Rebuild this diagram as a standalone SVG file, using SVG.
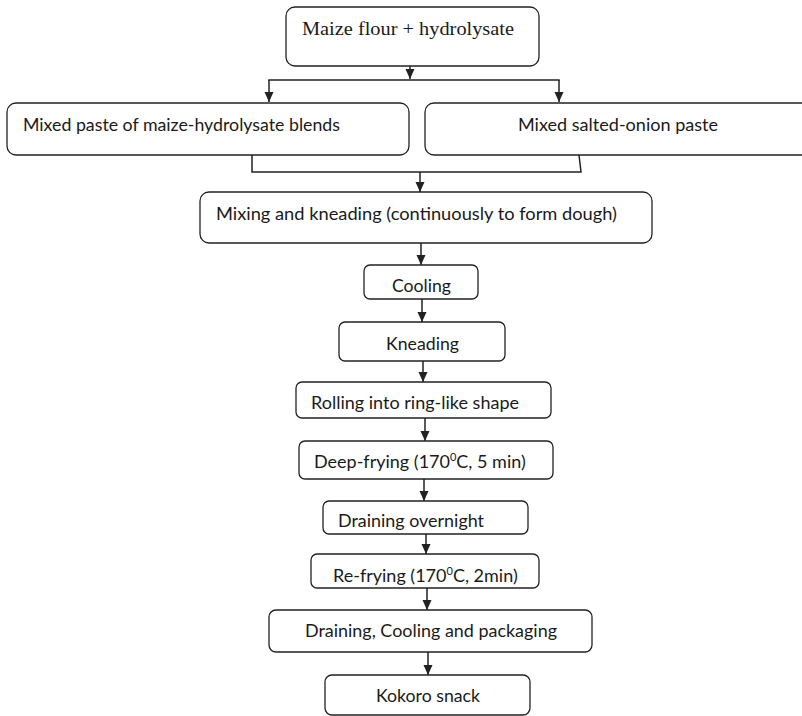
<svg xmlns="http://www.w3.org/2000/svg" width="802" height="716" viewBox="0 0 802 716">
<style>
.box{fill:#fff;stroke:#222;stroke-width:1.3}
.t{font-family:Lato,"Open Sans","Liberation Sans",sans-serif;font-size:18px;fill:#1a1a1a}
.s{font-family:"Liberation Serif","DejaVu Serif",serif;font-size:18px;fill:#1a1a1a}
.c{fill:none;stroke:#222;stroke-width:1.5}
.sup{font-size:11px}
</style>
<defs>
<marker id="ah" markerUnits="userSpaceOnUse" markerWidth="10" markerHeight="10" refX="10" refY="4.5" orient="auto">
<path d="M0,0 L10,4.5 L0,9 z" fill="#222"/>
</marker>
</defs>
<rect width="802" height="716" fill="#fff"/>
<g id="connectors">
<line class="c" x1="410" y1="66" x2="410" y2="79" marker-end="url(#ah)"/>
<line class="c" x1="268.3" y1="80" x2="559.7" y2="80"/>
<line class="c" x1="269" y1="80" x2="269" y2="102" marker-end="url(#ah)"/>
<line class="c" x1="559" y1="80" x2="559" y2="102" marker-end="url(#ah)"/>
<path class="c" d="M252,155 L252,172 L581,172 L579,155"/>
<line class="c" x1="420" y1="172" x2="420" y2="192" marker-end="url(#ah)"/>
<line class="c" x1="421" y1="243" x2="421" y2="265" marker-end="url(#ah)"/>
<line class="c" x1="422" y1="299" x2="422" y2="322" marker-end="url(#ah)"/>
<line class="c" x1="423" y1="361" x2="423" y2="382" marker-end="url(#ah)"/>
<line class="c" x1="425" y1="418" x2="425" y2="441" marker-end="url(#ah)"/>
<line class="c" x1="424" y1="479" x2="424" y2="501" marker-end="url(#ah)"/>
<line class="c" x1="426" y1="534" x2="426" y2="554" marker-end="url(#ah)"/>
<line class="c" x1="427" y1="588" x2="427" y2="610" marker-end="url(#ah)"/>
<line class="c" x1="428" y1="652" x2="428" y2="675" marker-end="url(#ah)"/>
</g>
<g id="n1"><rect class="box" x="286" y="7" width="253" height="59" rx="9"/><text class="s" x="302" y="35" textLength="212" lengthAdjust="spacingAndGlyphs">Maize flour + hydrolysate</text></g>
<g id="n2"><rect class="box" x="7" y="103" width="402" height="52" rx="9"/><text class="t" x="23" y="131" textLength="317" lengthAdjust="spacingAndGlyphs">Mixed paste of maize-hydrolysate blends</text></g>
<g id="n3"><rect class="box" x="425" y="103" width="395" height="52" rx="9"/><text class="t" x="518" y="131" textLength="200" lengthAdjust="spacingAndGlyphs">Mixed salted-onion paste</text></g>
<g id="n4"><rect class="box" x="200" y="192" width="452" height="51" rx="9"/><text class="t" x="216" y="220" textLength="401" lengthAdjust="spacingAndGlyphs">Mixing and kneading (continuously to form dough)</text></g>
<g id="n5"><rect class="box" x="364" y="265" width="114" height="34" rx="6"/><text class="t" x="392" y="292" textLength="59" lengthAdjust="spacingAndGlyphs">Cooling</text></g>
<g id="n6"><rect class="box" x="339" y="322" width="166" height="39" rx="6"/><text class="t" x="386" y="350" textLength="73" lengthAdjust="spacingAndGlyphs">Kneading</text></g>
<g id="n7"><rect class="box" x="296" y="382" width="255" height="36" rx="6"/><text class="t" x="311" y="409" textLength="208" lengthAdjust="spacingAndGlyphs">Rolling into ring-like shape</text></g>
<g id="n8"><rect class="box" x="299" y="441" width="254" height="38" rx="6"/><text class="t" x="314" y="468">Deep-frying (170<tspan class="sup" dy="-7">0</tspan><tspan dy="7">C, 5 min)</tspan></text></g>
<g id="n9"><rect class="box" x="323" y="501" width="205" height="33" rx="6"/><text class="t" x="338" y="527" textLength="146" lengthAdjust="spacingAndGlyphs">Draining overnight</text></g>
<g id="n10"><rect class="box" x="311" y="554" width="228" height="34" rx="6"/><text class="t" x="333" y="582">Re-frying (170<tspan class="sup" dy="-7">0</tspan><tspan dy="7">C, 2min)</tspan></text></g>
<g id="n11"><rect class="box" x="269" y="610" width="323" height="42" rx="7"/><text class="t" x="305" y="637" textLength="252" lengthAdjust="spacingAndGlyphs">Draining, Cooling and packaging</text></g>
<g id="n12"><rect class="box" x="325" y="675" width="205" height="40" rx="7"/><text class="t" x="376" y="702" textLength="104" lengthAdjust="spacingAndGlyphs">Kokoro snack</text></g>
</svg>
